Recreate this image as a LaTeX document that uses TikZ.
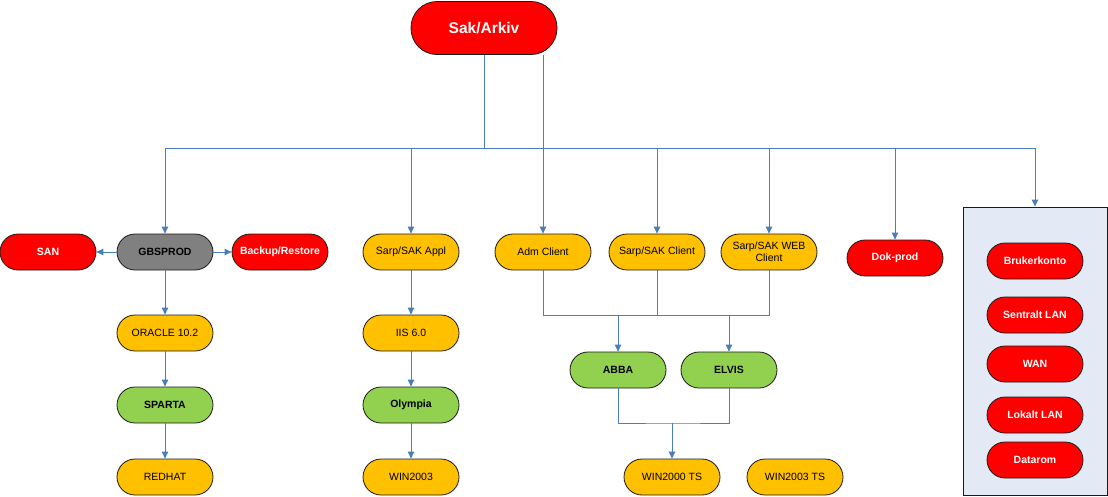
\documentclass[tikz,border=0pt]{standalone}
\usepackage{fontspec}
\setmainfont{Liberation Sans}
\usetikzlibrary{arrows.meta}
\definecolor{cred}{HTML}{FF0000}
\definecolor{corange}{HTML}{FFC000}
\definecolor{cgreen}{HTML}{92D050}
\definecolor{cgrey}{HTML}{808080}
\definecolor{cblue}{HTML}{4A7EBB}
\definecolor{boxfill}{HTML}{E4EAF5}
\definecolor{cborder}{HTML}{1A1A1A}
\begin{document}
\begin{tikzpicture}[x=1pt,y=-1pt,
  pill/.style={draw=cborder, line width=0.8pt, rounded corners=18pt, minimum width=96pt, minimum height=36pt, inner sep=1pt, align=center, font=\fontsize{10.5}{12}\selectfont},
  rednode/.style={pill, fill=cred, text=white, font=\fontsize{10.5}{12}\selectfont\bfseries},
  orangenode/.style={pill, fill=corange, text=black},
  greennode/.style={pill, fill=cgreen, text=black, font=\fontsize{10.5}{12}\selectfont\bfseries},
  greynode/.style={pill, fill=cgrey, text=black, font=\fontsize{10.5}{12}\selectfont\bfseries},
  conn/.style={draw=cblue, line width=0.9pt},
  arr/.style={conn, -{Triangle[width=6.5pt,length=7pt]}}
]
\useasboundingbox (0,0) rectangle (1108,496);

% top
\node[rednode, minimum width=146pt, minimum height=53pt, rounded corners=26pt, font=\fontsize{15.5}{18}\selectfont\bfseries] (sak) at (484,28) {Sak/Arkiv};

% row 2
\node[rednode] (san) at (48,252) {SAN};
\node[greynode] (gbs) at (165,252) {GBSPROD};
\node[rednode] (backup) at (280,252) {Backup/Restore};
\node[orangenode] (appl) at (411,252) {Sarp/SAK Appl};
\node[orangenode] (adm) at (543,252) {Adm Client};
\node[orangenode] (scl) at (657,252) {Sarp/SAK Client};
\node[orangenode] (web) at (769,252) {Sarp/SAK WEB\\Client};
\node[rednode] (dok) at (895,258) {Dok-prod};

% left column
\node[orangenode] (oracle) at (165,333) {ORACLE 10.2};
\node[greennode] (sparta) at (165,405) {SPARTA};
\node[orangenode] (redhat) at (165,477) {REDHAT};

% middle column
\node[orangenode] (iis) at (411,333) {IIS 6.0};
\node[greennode] (olympia) at (411,405) {Olympia};
\node[orangenode] (win2003) at (411,477) {WIN2003};

% clients
\node[greennode] (abba) at (618,370) {ABBA};
\node[greennode] (elvis) at (729,370) {ELVIS};
\node[orangenode] (w2000ts) at (672,477) {WIN2000 TS};
\node[orangenode] (w2003ts) at (795,477) {WIN2003 TS};

% right box
\node[draw=cborder, line width=0.9pt, fill=boxfill, minimum width=144pt, minimum height=288pt, inner sep=0pt] (box) at (1035,351) {};
\node[rednode] (bruker) at (1035,261) {Brukerkonto};
\node[rednode] (sentralt) at (1035,315) {Sentralt LAN};
\node[rednode] (wan) at (1035,364) {WAN};
\node[rednode] (lokalt) at (1035,415) {Lokalt LAN};
\node[rednode] (datarom) at (1035,460) {Datarom};

% connectors from top
\coordinate (j1) at (484,148);
\draw[conn] (sak.south) -- (j1);
\draw[arr] (j1) -| (gbs.north);
\draw[arr] (j1) -| (appl.north);
\draw[conn] (j1) -- (adm.north |- j1);
\draw[arr] (sak.south -| adm.north) -- (adm.north);
\draw[arr] (adm.north |- j1) -| (scl.north);
\draw[arr] (adm.north |- j1) -| (web.north);
\draw[arr] (adm.north |- j1) -| (dok.north);
\draw[arr] (adm.north |- j1) -| (box.north);

% GBSPROD sides
\draw[arr] (gbs.west) -- (san.east);
\draw[arr] (gbs.east) -- (backup.west);

% vertical chains
\draw[arr] (gbs.south) -- (oracle.north);
\draw[arr] (oracle.south) -- (sparta.north);
\draw[arr] (sparta.south) -- (redhat.north);
\draw[arr] (appl.south) -- (iis.north);
\draw[arr] (iis.south) -- (olympia.north);
\draw[arr] (olympia.south) -- (win2003.north);

% clients merge
\coordinate (m1) at (543,315);
\draw[conn] (adm.south) -- (adm.south |- m1) -- (web.south |- m1) -- (web.south);
\draw[conn] (scl.south) -- (scl.south |- m1);
\draw[arr] (abba.north |- m1) -- (abba.north);
\draw[arr] (elvis.north |- m1) -- (elvis.north);

% ABBA/ELVIS merge
\coordinate (m2) at (672,423);
\draw[conn] (abba.south) |- (m2) -| (elvis.south);
\draw[arr] (m2) -- (w2000ts.north);
\end{tikzpicture}
\end{document}
